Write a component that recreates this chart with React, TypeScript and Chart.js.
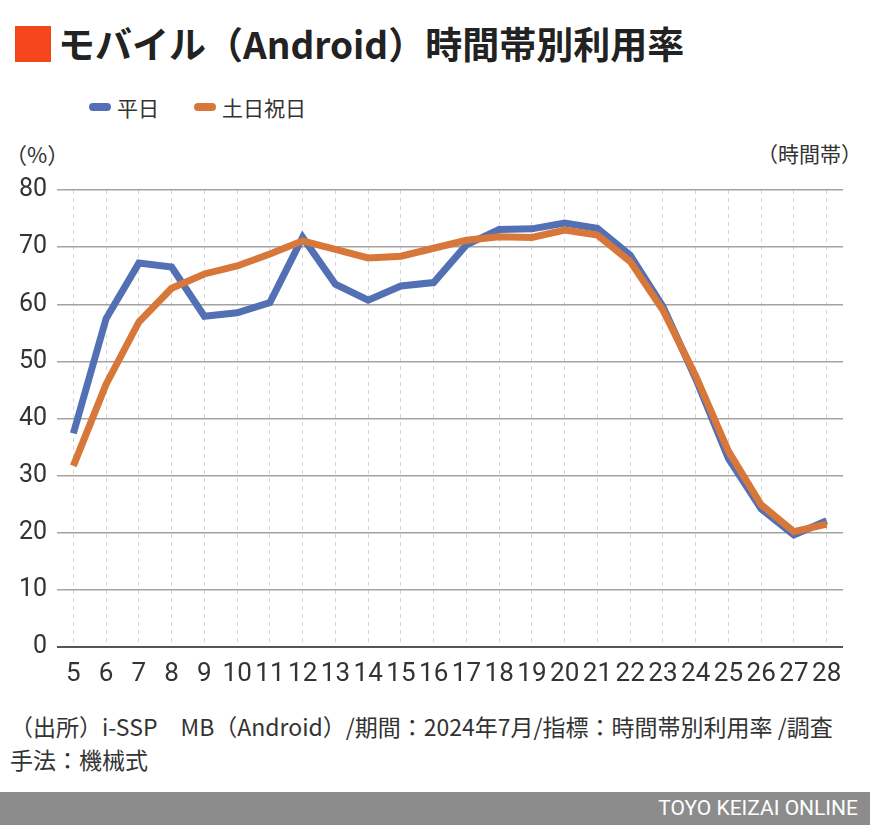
import React, { useEffect, useRef } from "react";
import { Chart, registerables } from "chart.js";

Chart.register(...registerables);

const TITLE = "モバイル（Android）時間帯別利用率";
const SERIES_NAMES = ["平日", "土日祝日"];
const HOURS = ["5", "6", "7", "8", "9", "10", "11", "12", "13", "14", "15", "16", "17", "18", "19", "20", "21", "22", "23", "24", "25", "26", "27", "28"];
const WEEKDAY = [37.4, 57.5, 67.2, 66.5, 57.9, 58.5, 60.3, 71.7, 63.5, 60.7, 63.2, 63.8, 70.4, 73.1, 73.2, 74.2, 73.3, 68.6, 59.6, 47.0, 33.0, 24.2, 19.6, 22.1];
const HOLIDAY = [31.7, 46.0, 56.9, 62.8, 65.3, 66.7, 68.8, 71.1, 69.6, 68.1, 68.4, 69.8, 71.2, 71.8, 71.7, 73.0, 72.1, 67.5, 59.0, 47.5, 34.3, 24.9, 20.2, 21.5];
const Y_UNIT = "（%）";
const X_UNIT = "（時間帯）";
const SOURCE_LINES = [
  "（出所）i-SSP　MB（Android）/期間：2024年7月/指標：時間帯別利用率 /調査",
  "手法：機械式",
];
const BRAND = "TOYO KEIZAI ONLINE";

const BLUE = "#5370b5";
const ORANGE = "#d8773a";
const NUM_FONT = "'Roboto', sans-serif";
const JP_FONT = "'Noto Sans CJK JP', sans-serif";

export default function App() {
  const canvasRef = useRef<HTMLCanvasElement | null>(null);

  useEffect(() => {
    const canvas = canvasRef.current;
    if (!canvas) return;
    const chart = new Chart(canvas, {
      type: "line",
      data: {
        labels: HOURS,
        datasets: [
          {
            label: SERIES_NAMES[0],
            data: WEEKDAY,
            borderColor: BLUE,
            backgroundColor: BLUE,
            borderWidth: 7,
            pointRadius: 0,
            tension: 0,
            order: 2,
          },
          {
            label: SERIES_NAMES[1],
            data: HOLIDAY,
            borderColor: ORANGE,
            backgroundColor: ORANGE,
            borderWidth: 7,
            pointRadius: 0,
            tension: 0,
            order: 1,
          },
        ],
      },
      options: {
        responsive: false,
        animation: false,
        devicePixelRatio: 1,
        layout: { padding: { top: 190, right: 27, left: 0, bottom: 0 } },
        plugins: {
          legend: { display: false },
          tooltip: { enabled: false },
        },
        scales: {
          x: {
            offset: true,
            afterFit: (scale: any) => {
              scale.height = 53;
            },
            grid: {
              offset: false,
              color: "#d6d6d6",
              lineWidth: 1,
              drawTicks: false,
            },
            border: { display: false, dash: [4, 4] },
            ticks: {
              autoSkip: false,
              maxRotation: 0,
              minRotation: 0,
              padding: 12,
              color: "#333",
              font: { family: NUM_FONT, size: 26 },
            },
          },
          y: {
            min: 0,
            max: 80,
            afterFit: (scale: any) => {
              scale.width = 57;
            },
            grid: {
              color: (ctx: any) => (ctx.tick && ctx.tick.value === 0 ? "#555" : "#a3a3a3"),
              lineWidth: (ctx: any) => (ctx.tick && ctx.tick.value === 0 ? 2 : 1.5),
              drawTicks: false,
            },
            border: { display: false },
            ticks: {
              stepSize: 10,
              padding: 10,
              color: "#333",
              font: { family: NUM_FONT, size: 25 },
            },
          },
        },
      },
    });
    return () => chart.destroy();
  }, []);

  return (
    <div
      style={{
        position: "absolute",
        left: 0,
        top: 0,
        width: 870,
        height: 825,
        background: "#fff",
        overflow: "hidden",
        fontFamily: JP_FONT,
        color: "#333",
      }}
    >
      <div style={{ position: "absolute", left: 15, top: 26, width: 36, height: 36, background: "#f4461a" }} />
      <div
        style={{
          position: "absolute",
          left: 58,
          top: 18,
          fontSize: 37,
          fontWeight: 700,
          color: "#222",
          whiteSpace: "nowrap",
          lineHeight: "50px",
        }}
      >
        {TITLE}
      </div>
      <div style={{ position: "absolute", left: 89, top: 93, display: "flex", alignItems: "center", fontSize: 21, lineHeight: "28px" }}>
        <span style={{ display: "inline-block", width: 22, height: 8, borderRadius: 4, background: BLUE, marginRight: 6 }} />
        <span style={{ marginRight: 35 }}>{SERIES_NAMES[0]}</span>
        <span style={{ display: "inline-block", width: 22, height: 8, borderRadius: 4, background: ORANGE, marginRight: 6 }} />
        <span>{SERIES_NAMES[1]}</span>
      </div>
      <div style={{ position: "absolute", left: 5, top: 139, fontSize: 22, lineHeight: "28px" }}>{Y_UNIT}</div>
      <div style={{ position: "absolute", right: 8, top: 139, fontSize: 21, lineHeight: "28px" }}>{X_UNIT}</div>
      <canvas ref={canvasRef} width={870} height={700} style={{ position: "absolute", left: 0, top: 0, width: 870, height: 700 }} />
      <div style={{ position: "absolute", left: 10, top: 710, fontSize: 23, lineHeight: "33px", whiteSpace: "nowrap" }}>
        {SOURCE_LINES.map((l, i) => (
          <div key={i}>{l}</div>
        ))}
      </div>
      <div
        style={{
          position: "absolute",
          left: 0,
          top: 792,
          width: 870,
          height: 33,
          background: "#8c8c8c",
        }}
      >
        <div
          style={{
            position: "absolute",
            right: 12,
            top: 0,
            lineHeight: "33px",
            color: "#fff",
            fontSize: 21,
            fontFamily: NUM_FONT,
          }}
        >
          {BRAND}
        </div>
      </div>
    </div>
  );
}
